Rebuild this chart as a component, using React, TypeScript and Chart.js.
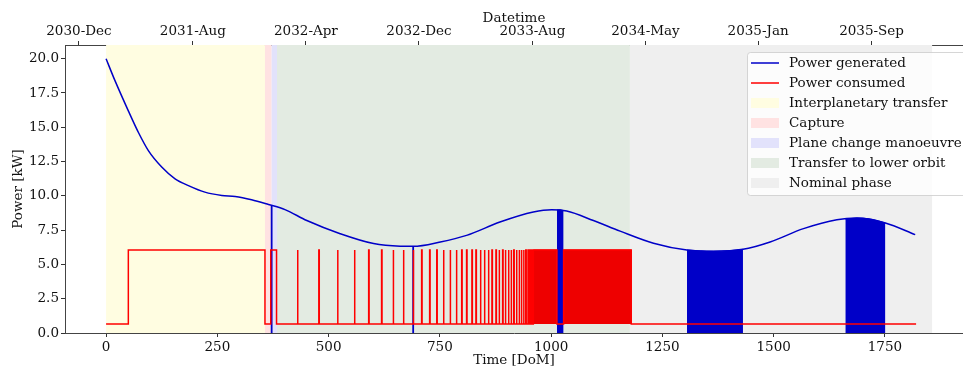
import { useEffect, useRef } from 'react';
import { Chart, registerables } from 'chart.js';

Chart.register(...registerables);

const FONT_FAMILY = '"DejaVu Serif", serif';

// Axis ranges and ticks
const xMin = -92.3;
const xMax = 1925.4;
const xTickValues = [0, 250, 500, 750, 1000, 1250, 1500, 1750];
const yMin = 0;
const yMax = 21;
const yTickValues = [0, 2.5, 5, 7.5, 10, 12.5, 15, 17.5, 20];
const topTickDays = [-61, 195, 449, 703, 958, 1212, 1465, 1720];
const topTickLabels = ['2030-Dec', '2031-Aug', '2032-Apr', '2032-Dec', '2033-Aug', '2034-May', '2035-Jan', '2035-Sep'];

// Power generated (kW) along the mission (DoM)
const genDays = [0, 20, 50, 73, 95, 125, 155, 185, 222, 260, 290, 327, 365, 402, 451, 526, 601, 661, 690, 751, 810, 885, 960, 1001, 1035, 1095, 1155, 1230, 1305, 1365, 1431, 1492, 1567, 1642, 1687, 1751, 1818];
const genKW = [20.0, 18.4, 16.2, 14.6, 13.3, 12.1, 11.24, 10.75, 10.27, 10.03, 9.96, 9.72, 9.37, 9.0, 8.2, 7.24, 6.52, 6.33, 6.32, 6.64, 7.12, 8.09, 8.82, 8.99, 8.89, 8.2, 7.43, 6.55, 6.05, 5.96, 6.1, 6.64, 7.61, 8.26, 8.38, 8.02, 7.17];

// Short eclipses (generated power drops to zero)
const eclipseLineDays = [372, 690];
const eclipseLineKW = [9.3, 6.32];

// Eclipse seasons (dense drops to zero)
const eclipseBand1Days = [1013, 1020, 1028];
const eclipseBand1KW = [8.97, 8.98, 8.92];
const eclipseBand2Days = [1305, 1335, 1365, 1400, 1431];
const eclipseBand2KW = [6.05, 5.99, 5.96, 6.0, 6.1];
const eclipseBand3Days = [1661, 1687, 1720, 1751];
const eclipseBand3KW = [8.3, 8.38, 8.3, 8.02];

// Power consumed (kW)
const consLow = 0.65;
const consHigh = 6.05;
const consStartDay = 0;
const consEndDay = 1820;
const consHighIntervals = [[50, 357], [370, 383]];
const consSpikeDays = [430, 478, 520, 558, 590, 619, 645, 668, 690, 709, 727, 743, 758, 773, 787, 799, 810, 822, 831, 841, 850, 859, 867, 876, 883, 891, 897, 904, 910, 916, 922, 928, 933, 938, 943, 948, 952, 956];
const consSpikeWidth = 1;
const consDenseIntervals = [[960, 1013], [1028, 1180]];

// Mission phases
const phaseNames = ['Interplanetary transfer', 'Capture', 'Plane change manoeuvre', 'Transfer to lower orbit', 'Nominal phase'];
const phaseStarts = [0, 357, 372, 384, 1177];
const phaseEnds = [357, 372, 384, 1177, 1856];
const phaseColors = ['#fffde1', '#ffe2e2', '#e2e2fb', '#e3ebe2', '#efefef'];

const GEN_COLOR = '#0000c8';
const CONS_COLOR = '#ff0000';
const CONS_FILL = '#ee0000';

const pts = (xs: number[], ys: number[]) => xs.map((x, i) => ({ x, y: ys[i] }));

function buildConsumed() {
  const out: { x: number; y: number }[] = [{ x: consStartDay, y: consLow }];
  consHighIntervals.forEach(([a, b]) => {
    out.push({ x: a, y: consLow }, { x: a, y: consHigh }, { x: b, y: consHigh }, { x: b, y: consLow });
  });
  consSpikeDays.forEach((d) => {
    out.push({ x: d, y: consLow }, { x: d, y: consHigh }, { x: d + consSpikeWidth, y: consHigh }, { x: d + consSpikeWidth, y: consLow });
  });
  consDenseIntervals.forEach(([a, b]) => {
    out.push({ x: a, y: consLow }, { x: a, y: consHigh }, { x: b, y: consHigh }, { x: b, y: consLow });
  });
  out.push({ x: consEndDay, y: consLow });
  return out;
}

const phasePlugin = {
  id: 'phases',
  beforeDatasetsDraw(chart: any) {
    const { ctx, chartArea, scales } = chart;
    const xs = scales.x;
    ctx.save();
    ctx.beginPath();
    ctx.rect(chartArea.left, chartArea.top, chartArea.right - chartArea.left, chartArea.bottom - chartArea.top);
    ctx.clip();
    phaseNames.forEach((_, i) => {
      const x0 = xs.getPixelForValue(phaseStarts[i]);
      const x1 = xs.getPixelForValue(phaseEnds[i]);
      ctx.fillStyle = phaseColors[i];
      ctx.fillRect(x0, chartArea.top, x1 - x0, chartArea.bottom - chartArea.top);
    });
    ctx.restore();
  },
};

const legendItems = [
  { label: 'Power generated', kind: 'line', color: GEN_COLOR },
  { label: 'Power consumed', kind: 'line', color: CONS_COLOR },
  ...phaseNames.map((n, i) => ({ label: n, kind: 'patch', color: phaseColors[i] })),
];

const legendPlugin = {
  id: 'innerLegend',
  afterDatasetsDraw(chart: any) {
    const { ctx, chartArea } = chart;
    const left = 747;
    const top = chartArea.top + 7;
    const width = 240;
    const rowH = 20;
    const height = legendItems.length * rowH + 3;
    ctx.save();
    ctx.fillStyle = 'rgba(255,255,255,0.8)';
    ctx.strokeStyle = 'rgba(204,204,204,0.8)';
    ctx.lineWidth = 1;
    ctx.beginPath();
    (ctx as any).roundRect(left + 0.5, top + 0.5, width, height, 3);
    ctx.fill();
    ctx.stroke();
    ctx.font = `13.5px ${FONT_FAMILY}`;
    ctx.textBaseline = 'middle';
    ctx.textAlign = 'left';
    legendItems.forEach((it, i) => {
      const cy = top + 11 + i * rowH;
      if (it.kind === 'line') {
        ctx.strokeStyle = it.color;
        ctx.lineWidth = 1.5;
        ctx.beginPath();
        ctx.moveTo(751, cy);
        ctx.lineTo(779, cy);
        ctx.stroke();
      } else {
        ctx.fillStyle = it.color;
        ctx.fillRect(751, cy - 5, 28, 10);
      }
      ctx.fillStyle = '#111';
      ctx.fillText(it.label, 789, cy);
    });
    ctx.restore();
  },
};

export default function App() {
  const ref = useRef<HTMLCanvasElement>(null);
  useEffect(() => {
    const canvas = ref.current;
    if (!canvas) return;
    const font = { family: FONT_FAMILY, size: 13.5 };
    const lineBase = { pointRadius: 0, pointHoverRadius: 0, tension: 0, xAxisID: 'x', yAxisID: 'y' };
    const datasets: any[] = [
      { ...lineBase, label: 'Power consumed', data: buildConsumed(), borderColor: CONS_COLOR, borderWidth: 1.5, fill: false, order: 0 },
      ...consDenseIntervals.map(([a, b]) => ({
        ...lineBase, label: 'consumed-dense', data: [{ x: a, y: consHigh }, { x: b, y: consHigh }],
        borderColor: CONS_FILL, borderWidth: 1, backgroundColor: CONS_FILL, fill: { value: consLow }, order: 1,
      })),
      { ...lineBase, label: 'Power generated', data: pts(genDays, genKW), borderColor: GEN_COLOR, borderWidth: 1.5, cubicInterpolationMode: 'monotone', fill: false, order: 2 },
      ...eclipseLineDays.map((d, i) => ({
        ...lineBase, label: 'eclipse', data: [{ x: d, y: 0 }, { x: d, y: eclipseLineKW[i] }],
        borderColor: GEN_COLOR, borderWidth: 1.8, fill: false, order: 2,
      })),
      ...[[eclipseBand1Days, eclipseBand1KW], [eclipseBand2Days, eclipseBand2KW], [eclipseBand3Days, eclipseBand3KW]].map(([d, k]) => ({
        ...lineBase, label: 'eclipse-band', data: pts(d, k), borderColor: GEN_COLOR, borderWidth: 1,
        backgroundColor: GEN_COLOR, fill: 'origin', cubicInterpolationMode: 'monotone', order: 2,
      })),
    ];
    const chart = new Chart(canvas, {
      type: 'line',
      data: { datasets },
      options: {
        responsive: false,
        animation: false,
        devicePixelRatio: 1,
        layout: { padding: 0 },
        plugins: { legend: { display: false }, tooltip: { enabled: false } },
        events: [],
        scales: {
          x: {
            type: 'linear', position: 'bottom', min: xMin, max: xMax,
            afterBuildTicks: (s: any) => { s.ticks = xTickValues.map((v) => ({ value: v })); },
            afterFit: (s: any) => { s.height = 36; },
            ticks: { font, color: '#111', padding: 2, maxRotation: 0, autoSkip: false, callback: (v: any) => String(v) },
            grid: { drawOnChartArea: false, drawTicks: true, tickLength: 4, color: '#333', tickColor: '#333' },
            border: { display: true, color: '#444', width: 1 },
            title: { display: true, text: 'Time [DoM]', font, color: '#111', padding: { top: 0, bottom: 0 } },
          },
          x2: {
            type: 'linear', position: 'top', min: xMin, max: xMax,
            afterBuildTicks: (s: any) => { s.ticks = topTickDays.map((v) => ({ value: v })); },
            afterFit: (s: any) => { s.height = 45; },
            ticks: { font, color: '#111', padding: 1, maxRotation: 0, autoSkip: false, callback: (_v: any, i: number) => topTickLabels[i] },
            grid: { drawOnChartArea: false, drawTicks: true, tickLength: 4, color: '#333', tickColor: '#333' },
            border: { display: true, color: '#444', width: 1 },
            title: { display: true, text: 'Datetime', font, color: '#111', padding: { top: 10, bottom: 0 } },
          },
          y: {
            type: 'linear', position: 'left', min: yMin, max: yMax,
            afterBuildTicks: (s: any) => { s.ticks = yTickValues.map((v) => ({ value: v })); },
            afterFit: (s: any) => { s.width = 65; },
            ticks: { font, color: '#111', padding: 2, callback: (v: any) => Number(v).toFixed(1) },
            grid: { drawOnChartArea: false, drawTicks: true, tickLength: 4, color: '#333', tickColor: '#333' },
            border: { display: true, color: '#444', width: 1 },
            title: { display: true, text: 'Power [kW]', font, color: '#111', padding: { top: 10, bottom: 0 } },
          },
        },
      } as any,
      plugins: [phasePlugin, legendPlugin],
    });
    return () => chart.destroy();
  }, []);
  return (
    <div style={{ position: 'fixed', left: 0, top: 0, width: 963, height: 369, overflow: 'hidden', background: '#fff' }}>
      <canvas ref={ref} width={963} height={369} style={{ display: 'block', width: 963, height: 369 }} />
    </div>
  );
}
